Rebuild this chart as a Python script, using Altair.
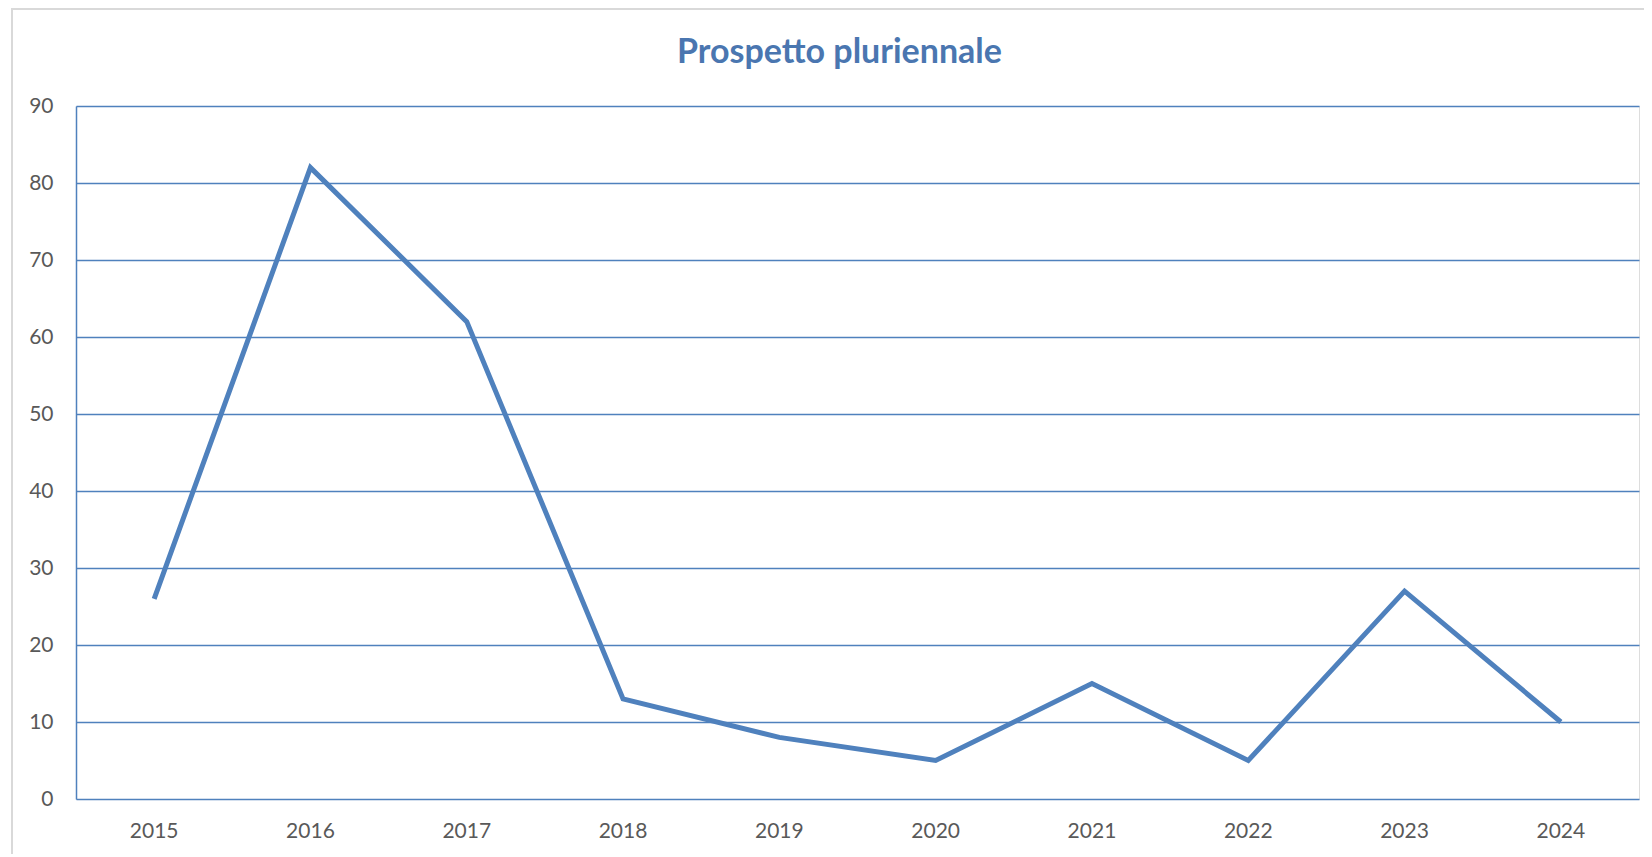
import altair as alt
import pandas as pd

years = ["2015", "2016", "2017", "2018", "2019", "2020", "2021", "2022", "2023", "2024"]
values = [26, 82, 62, 13, 8, 5, 15, 5, 27, 10]

df = pd.DataFrame({"anno": years, "valore": values})

W, H = 1563, 693
BLUE = "#4f81bd"

line = alt.Chart(df).mark_line(color=BLUE, strokeWidth=5, strokeCap="butt", strokeJoin="miter").encode(
    x=alt.X("anno:N", sort=years, title=None,
            scale=alt.Scale(type="band", paddingInner=0, paddingOuter=0),
            axis=alt.Axis(labelAngle=0, ticks=False, domain=False, grid=False,
                          labelFont="Lato", labelFontSize=21, labelColor="#595959",
                          labelPadding=21)),
    y=alt.Y("valore:Q", title=None,
            scale=alt.Scale(domain=[0, 90], nice=False),
            axis=alt.Axis(values=list(range(0, 91, 10)), ticks=False,
                          domain=True, domainColor=BLUE, domainWidth=1.5,
                          grid=True, gridColor=BLUE, gridWidth=1.5, gridOpacity=1,
                          labelFont="Lato", labelFontSize=21, labelColor="#595959",
                          labelPadding=23)),
)

frame = alt.Chart(df).mark_rect(fill=None, stroke="#d9d9d9", strokeWidth=2).encode(
    x=alt.value(-64), x2=alt.value(W + 30),
    y=alt.value(-97), y2=alt.value(H + 70),
)

chart = alt.layer(frame, line).properties(
    width=W, height=H,
    title=alt.TitleParams("Prospetto pluriennale", font="Lato", fontSize=34, fontWeight="bold",
                          color="#4a76b0", anchor="middle", offset=-62, dx=-18),
    autosize=alt.AutoSizeParams(type="none"),
    padding={"left": 68, "top": 98, "right": 5, "bottom": 55},
).configure_view(stroke=None).configure(background="white")

chart.save("out.html", embed_options={"renderer": "svg", "actions": False})
